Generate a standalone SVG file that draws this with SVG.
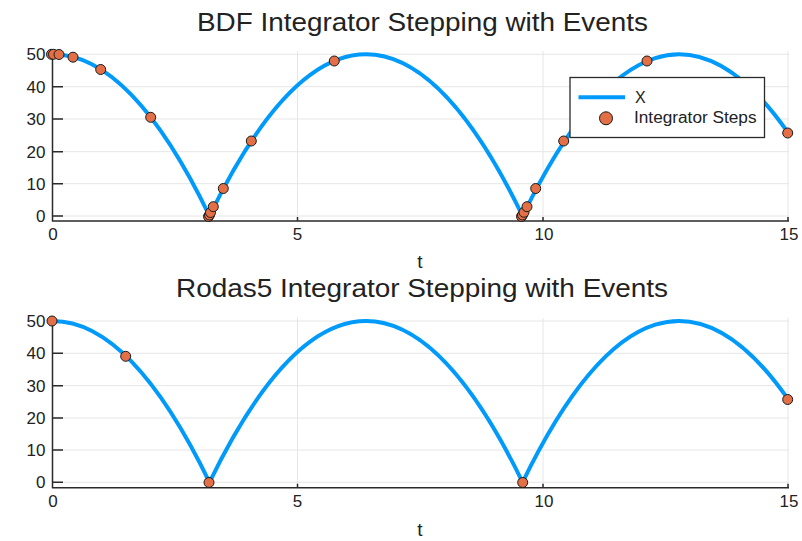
<svg xmlns="http://www.w3.org/2000/svg" width="802" height="541" viewBox="0 0 802 541">
<style>
text{font-family:"Liberation Sans",Arial,sans-serif;fill:#222222}
.title{font-size:25px}
.tick{font-size:17px}
.ytick{font-size:17px;text-anchor:end}
.xtick{text-anchor:middle}
.axlab{font-size:19px;text-anchor:middle}
.grid{stroke:#e6e6e6;stroke-width:1;fill:none}
.axis{stroke:#2a2a2a;stroke-width:1.5;fill:none}
.curve{stroke:#009AFA;stroke-width:4;fill:none;stroke-linecap:round}
.pt{fill:#E36F47;stroke:#1a1a1a;stroke-width:1}
</style>
<rect width="802" height="541" fill="#ffffff"/>

<g id="plot-bdf">
  <text class="title" x="197" y="31" textLength="451" lengthAdjust="spacingAndGlyphs">BDF Integrator Stepping with Events</text>
  <g id="bdf-grid">
    <path class="grid" d="M53 54.3H789M53 86.7H789M53 119H789M53 151.7H789M53 183.7H789M53 216H789"/>
    <path class="grid" d="M297.5 51V221M543 51V221M788 51V221"/>
  </g>
  <g id="bdf-axes">
    <path class="axis" d="M52.5 51V221.5M52 221H789"/>
    <path class="axis" d="M52.5 54.3H63M52.5 86.7H63M52.5 119H63M52.5 151.7H63M52.5 183.7H63M52.5 216H63"/>
    <path class="axis" d="M297.5 221V217M543 221V217M788 221V217"/>
    <text class="ytick" x="45.5" y="60.3">50</text>
    <text class="ytick" x="45.5" y="92.7">40</text>
    <text class="ytick" x="45.5" y="125">30</text>
    <text class="ytick" x="45.5" y="157.7">20</text>
    <text class="ytick" x="45.5" y="189.7">10</text>
    <text class="ytick" x="45.5" y="222">0</text>
    <text class="tick xtick" x="53" y="239.5">0</text>
    <text class="tick xtick" x="297.5" y="239.5">5</text>
    <text class="tick xtick" x="544" y="239.5">10</text>
    <text class="tick xtick" x="789" y="239.5">15</text>
    <text class="axlab" x="420" y="268">t</text>
  </g>
  <path id="bdf-curve" class="curve" d="M53 54.3Q131.3 54.3 209.5 216Q366.1 -107.4 522.6 216Q655.3 -58.2 788 132.6"/>
  <g id="bdf-steps">
    <circle class="pt" cx="51.5" cy="54.3" r="5"/>
    <circle class="pt" cx="53.5" cy="54.3" r="5"/>
    <circle class="pt" cx="59" cy="54.5" r="5"/>
    <circle class="pt" cx="73" cy="57.2" r="5"/>
    <circle class="pt" cx="100.7" cy="69.5" r="5"/>
    <circle class="pt" cx="150.7" cy="117.3" r="5"/>
    <circle class="pt" cx="208.5" cy="216.5" r="5"/>
    <circle class="pt" cx="209.5" cy="215" r="5"/>
    <circle class="pt" cx="210.5" cy="212.5" r="5"/>
    <circle class="pt" cx="213.3" cy="206.7" r="5"/>
    <circle class="pt" cx="223.3" cy="188.5" r="5"/>
    <circle class="pt" cx="251.3" cy="141" r="5"/>
    <circle class="pt" cx="334.3" cy="61" r="5"/>
    <circle class="pt" cx="521.5" cy="216.5" r="5"/>
    <circle class="pt" cx="522.5" cy="215" r="5"/>
    <circle class="pt" cx="524" cy="212.3" r="5"/>
    <circle class="pt" cx="527" cy="206.7" r="5"/>
    <circle class="pt" cx="535.7" cy="188.5" r="5"/>
    <circle class="pt" cx="563.7" cy="141" r="5"/>
    <circle class="pt" cx="647" cy="61" r="5"/>
    <circle class="pt" cx="787.7" cy="133" r="5"/>
  </g>
  <g id="legend">
    <rect x="570" y="77.5" width="194.5" height="60" fill="#ffffff" stroke="#2a2a2a" stroke-width="1.3"/>
    <line x1="578.5" y1="97.3" x2="625" y2="97.3" stroke="#009AFA" stroke-width="4"/>
    <text x="635" y="103.3" font-size="16">X</text>
    <circle class="pt" cx="606" cy="118.3" r="6.5"/>
    <text x="634" y="123.3" font-size="16" textLength="122.5" lengthAdjust="spacingAndGlyphs">Integrator Steps</text>
  </g>
</g>

<g id="plot-rodas5">
  <text class="title" x="176" y="297" textLength="492" lengthAdjust="spacingAndGlyphs">Rodas5 Integrator Stepping with Events</text>
  <g id="rodas-grid">
    <path class="grid" d="M53 321H789M53 353.3H789M53 385.7H789M53 418H789M53 450H789M53 482.3H789"/>
    <path class="grid" d="M297.5 318V488M543 318V488M788 318V488"/>
  </g>
  <g id="rodas-axes">
    <path class="axis" d="M52.5 318V488.3M52 487.7H789"/>
    <path class="axis" d="M52.5 321H63M52.5 353.3H63M52.5 385.7H63M52.5 418H63M52.5 450H63M52.5 482.3H63"/>
    <path class="axis" d="M297.5 487.7V483.7M543 487.7V483.7M788 487.7V483.7"/>
    <text class="ytick" x="45.5" y="327">50</text>
    <text class="ytick" x="45.5" y="359.3">40</text>
    <text class="ytick" x="45.5" y="391.7">30</text>
    <text class="ytick" x="45.5" y="424">20</text>
    <text class="ytick" x="45.5" y="456">10</text>
    <text class="ytick" x="45.5" y="488.3">0</text>
    <text class="tick xtick" x="53" y="506.5">0</text>
    <text class="tick xtick" x="297.5" y="506.5">5</text>
    <text class="tick xtick" x="544" y="506.5">10</text>
    <text class="tick xtick" x="789" y="506.5">15</text>
    <text class="axlab" x="420" y="536">t</text>
  </g>
  <path id="rodas-curve" class="curve" d="M53 321Q131.3 321 209.5 482.3Q366.1 159.7 522.6 482.3Q655.3 208.7 788 399.1"/>
  <g id="rodas-steps">
    <circle class="pt" cx="52" cy="321" r="5"/>
    <circle class="pt" cx="125.7" cy="356.3" r="5"/>
    <circle class="pt" cx="209" cy="482.5" r="5"/>
    <circle class="pt" cx="522.7" cy="482.5" r="5"/>
    <circle class="pt" cx="787.7" cy="399.5" r="5"/>
  </g>
</g>
</svg>
